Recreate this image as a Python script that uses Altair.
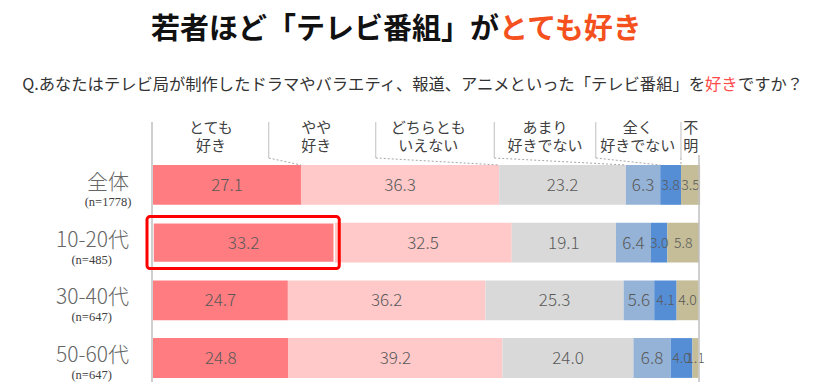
import altair as alt
import pandas as pd

# ---------------- data ----------------
GROUPS = ["全体", "10-20代", "30-40代", "50-60代"]
N_LABELS = ["(n=1778)", "(n=485)", "(n=647)", "(n=647)"]
CATS = ["とても好き", "やや好き", "どちらともいえない", "あまり好きでない", "全く好きでない", "不明"]
CAT_LABELS = ["とても\n好き", "やや\n好き", "どちらとも\nいえない", "あまり\n好きでない", "全く\n好きでない", "不\n明"]
COLORS = ["#FF7C80", "#FFC9C9", "#D9D9D9", "#95B3D7", "#558ED5", "#C4BD97"]
V_ALL = [27.1, 36.3, 23.2, 6.3, 3.8, 3.5]
V_1020 = [33.2, 32.5, 19.1, 6.4, 3.0, 5.8]
V_3040 = [24.7, 36.2, 25.3, 5.6, 4.1, 4.0]
V_5060 = [24.8, 39.2, 24.0, 6.8, 4.0, 1.1]
VALUES = [V_ALL, V_1020, V_3040, V_5060]

TITLE_BLACK = "若者ほど「テレビ番組」が"
TITLE_RED = "とても好き"
SUB_1 = "Q.あなたはテレビ局が制作したドラマやバラエティ、報道、アニメといった「テレビ番組」を"
SUB_2 = "好き"
SUB_3 = "ですか？"
HIGHLIGHT_GROUP = "10-20代"

# ---------------- layout ----------------
W, H = 546, 226
PX = W / 100.0
FONT = "Noto Sans CJK JP"
LABEL_POS = [10.6, 29.9, 50.4, 71.8, 88.8, 98.5]     # header label centers (percent units)
LEADER_X = [21.2, 40.8, 62.5, 81.1, 96.7]            # header leader lines (percent units)

rows = []
for g, vals in zip(GROUPS, VALUES):
    cum = 0.0
    for i, (c, v) in enumerate(zip(CATS, vals)):
        rows.append(dict(group=g, cat=c, idx=i, value=v, start=cum, end=cum + v,
                         mid=cum + v / 2, label=f"{v:.1f}"))
        cum += v
seg = pd.DataFrame(rows)


def text_w(s, fs):
    w = 0.0
    for ch in s:
        if ch.isdigit():
            w += 0.55
        elif ch == "-":
            w += 0.36
        else:
            w += 1.0
    return w * fs


GLAB_X = -24
gdf = pd.DataFrame(dict(group=GROUPS, n=N_LABELS,
                        nx=[(GLAB_X - text_w(g, 21) / 2) / PX for g in GROUPS]))

bounds = []
c = 0.0
for v in V_ALL[:5]:
    c += v
    bounds.append(c)
lead = pd.DataFrame(dict(lx=LEADER_X, bx=bounds))
hdr = pd.DataFrame(dict(pos=LABEL_POS, text=CAT_LABELS))

xs = alt.Scale(domain=[0, 100], nice=False, zero=False)
ys = alt.Scale(domain=GROUPS, paddingInner=0.31, paddingOuter=0.1135, align=0.687)
Y = alt.Y("group:N", sort=GROUPS, scale=ys, axis=None)


def X(f):
    return alt.X(f, scale=xs, axis=None)


bars = alt.Chart(seg).mark_bar().encode(
    x=X("start:Q"), x2="end:Q", y=Y,
    color=alt.Color("cat:N", scale=alt.Scale(domain=CATS, range=COLORS), legend=None),
)

hl_filter = (alt.datum.group == HIGHLIGHT_GROUP) & (alt.datum.idx == 0)
inner = alt.Chart(seg).transform_filter(hl_filter).mark_bar(
    filled=False, stroke="white", strokeWidth=1.5
).encode(x=X("start:Q"), x2="end:Q", y=Y)

vbase = alt.Chart(seg).encode(x=X("mid:Q"), y=Y, text="label:N")
vbig = vbase.transform_filter(alt.datum.idx < 4).mark_text(
    font=FONT, fontSize=17, fontWeight=300, color="#595959", dy=1)
vsmall = vbase.transform_filter(alt.datum.idx >= 4).mark_text(
    font=FONT, fontSize=14, fontWeight=300, color="#595959", dy=1)

glab = alt.Chart(gdf).mark_text(
    align="right", font=FONT, fontSize=21, fontWeight=300, color="#666666", dy=-2
).encode(x=alt.value(GLAB_X), y=Y, text="group:N")
nlab = alt.Chart(gdf).mark_text(
    align="center", font="Liberation Serif", fontSize=12.5, color="#404040", dy=17
).encode(x=X("nx:Q"), y=Y, text="n:N")

header = alt.Chart(hdr).mark_text(
    font=FONT, fontSize=15, lineHeight=18, lineBreak="\n", color="#404040", baseline="middle"
).encode(x=X("pos:Q"), y=alt.value(-28), text="text:N")

solid = alt.Chart(lead).mark_rule(color="#BFBFBF", strokeWidth=1).encode(
    x=X("lx:Q"), y=alt.value(-34), y2=alt.value(2))
dashed = alt.Chart(lead).mark_rule(color="#A6A6A6", strokeWidth=1, strokeDash=[2, 2]).encode(
    x=X("lx:Q"), x2="bx:Q", y=alt.value(2), y2=alt.value(9))

one = pd.DataFrame(dict(v=[100]))
left_axis = alt.Chart(one).mark_rule(color="#BFBFBF", strokeWidth=1.5).encode(
    x=alt.value(-1), y=alt.value(-34), y2=alt.value(H))
right_axis = alt.Chart(one).mark_rule(color="#BFBFBF", strokeWidth=1.5).encode(
    x=X("v:Q"), y=alt.value(-1), y2=alt.value(H))

highlight = alt.Chart(seg).transform_filter(hl_filter).mark_bar(
    filled=False, stroke="#FF0000", strokeWidth=3, cornerRadius=3, size=52,
    xOffset=-6, x2Offset=5
).encode(x=X("start:Q"), x2="end:Q", y=Y)

tdf = pd.DataFrame(dict(a=[TITLE_BLACK], b=[TITLE_RED], s1=[SUB_1], s2=[SUB_2], s3=[SUB_3]))
t1 = alt.Chart(tdf).mark_text(align="right", baseline="middle", font=FONT, fontSize=29,
                              fontWeight="bold", color="#111111").encode(
    x=alt.value(346), y=alt.value(-126), text="a:N")
t2 = alt.Chart(tdf).mark_text(align="left", baseline="middle", font=FONT, fontSize=29,
                              fontWeight="bold", color="#F4511E").encode(
    x=alt.value(346), y=alt.value(-126), text="b:N")
s1 = alt.Chart(tdf).mark_text(align="right", baseline="middle", font=FONT, fontSize=16.3,
                              color="#333333").encode(
    x=alt.value(552), y=alt.value(-71), text="s1:N")
s2 = alt.Chart(tdf).mark_text(align="left", baseline="middle", font=FONT, fontSize=16.3,
                              color="#FF4B4B").encode(
    x=alt.value(552), y=alt.value(-71), text="s2:N")
s3 = alt.Chart(tdf).mark_text(align="left", baseline="middle", font=FONT, fontSize=16.3,
                              color="#333333").encode(
    x=alt.value(585), y=alt.value(-71), text="s3:N")

chart = alt.layer(
    bars, inner, vbig, vsmall, glab, nlab, header, solid, dashed,
    left_axis, right_axis, highlight, t1, t2, s1, s2, s3
).properties(
    width=W, height=H, autosize="none",
    padding={"left": 145, "top": 148, "right": 106, "bottom": 0},
).configure_view(stroke=None)

chart.save("out.html", embed_options={"renderer": "svg", "actions": False})
